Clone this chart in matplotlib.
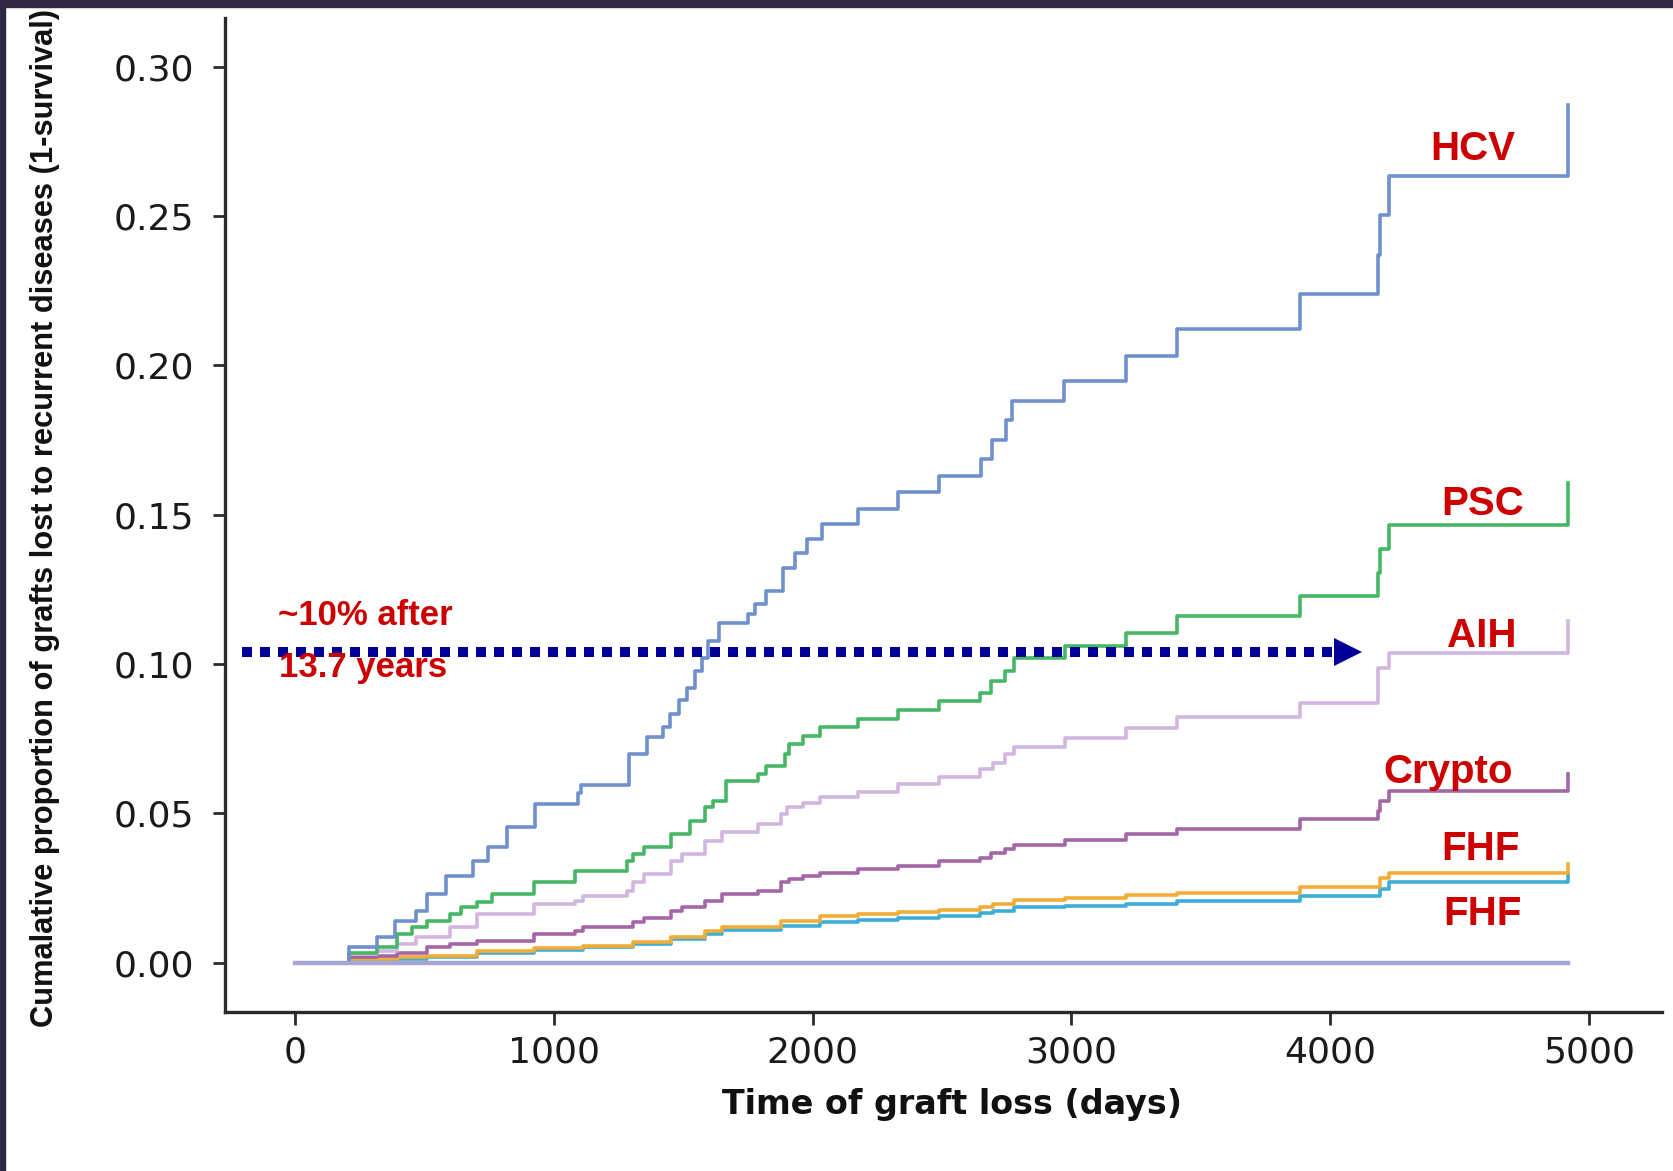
import matplotlib
matplotlib.use("Agg")
import matplotlib.pyplot as plt
from matplotlib.patches import Rectangle

# cumulative incidence step curves (days, proportion)
hcv_t = [0, 209, 319, 386, 467, 511, 584, 687, 746, 819, 929, 1093, 1105, 1290, 1360, 1421, 1450, 1483, 1515, 1544,
         1573, 1597, 1638, 1749, 1778, 1819, 1884, 1933, 1977, 2036, 2175, 2330, 2489, 2651, 2695, 2746, 2771, 2973,
         3213, 3408, 3882, 4183, 4193, 4227, 4919]
hcv_v = [0, 0.0054, 0.0085, 0.014, 0.0174, 0.023, 0.029, 0.034, 0.0386, 0.0453, 0.053, 0.0567, 0.0595, 0.070, 0.0755,
         0.079, 0.0834, 0.088, 0.092, 0.0977, 0.102, 0.1077, 0.1137, 0.1166, 0.12, 0.1245, 0.1320, 0.1372, 0.1417,
         0.1469, 0.1519, 0.1575, 0.1629, 0.1687, 0.1751, 0.1818, 0.188, 0.1949, 0.203, 0.2121, 0.2239, 0.237, 0.2505,
         0.2635, 0.2873]

psc_t = [0, 209, 319, 393, 452, 511, 599, 643, 702, 761, 922, 1084, 1283, 1305, 1349, 1452, 1525, 1584, 1614, 1665,
         1790, 1820, 1893, 1908, 1963, 2029, 2176, 2330, 2489, 2646, 2690, 2742, 2779, 2977, 3213, 3408, 3882, 4183,
         4193, 4227, 4919]
psc_v = [0, 0.0034, 0.0051, 0.0096, 0.0118, 0.014, 0.0163, 0.0185, 0.0202, 0.023, 0.0269, 0.0308, 0.0341, 0.0364,
         0.0386, 0.0431, 0.0475, 0.052, 0.054, 0.061, 0.0631, 0.0659, 0.0698, 0.0731, 0.0759, 0.0789, 0.0815, 0.0845,
         0.0876, 0.0904, 0.0943, 0.0977, 0.1019, 0.106, 0.1105, 0.116, 0.1227, 0.1305, 0.1385, 0.1465, 0.1605]

aih_t = [0, 209, 319, 393, 467, 599, 702, 922, 1084, 1114, 1283, 1305, 1349, 1452, 1496, 1584, 1650, 1790, 1878, 1900,
         1963, 2029, 2176, 2330, 2489, 2646, 2698, 2742, 2779, 2977, 3213, 3408, 3882, 4183, 4227, 4919]
aih_v = [0, 0.0029, 0.004, 0.0063, 0.0085, 0.0118, 0.0163, 0.0196, 0.0207, 0.0224, 0.0241, 0.0269, 0.0297, 0.0341,
         0.0364, 0.0408, 0.0436, 0.0464, 0.0497, 0.052, 0.0536, 0.0555, 0.0573, 0.06, 0.0622, 0.0648, 0.067, 0.0698,
         0.0723, 0.0754, 0.0787, 0.0824, 0.0871, 0.0988, 0.1038, 0.1144]

crypto_t = [0, 209, 319, 393, 511, 599, 702, 922, 1084, 1114, 1305, 1349, 1452, 1496, 1584, 1650, 1790, 1878, 1908,
            1963, 2029, 2176, 2330, 2489, 2646, 2690, 2742, 2779, 2977, 3213, 3408, 3882, 4183, 4193, 4227, 4919]
crypto_v = [0, 0.0018, 0.0022, 0.0034, 0.0051, 0.0063, 0.0074, 0.0096, 0.0107, 0.0118, 0.0135, 0.0151, 0.0174, 0.0185,
            0.0207, 0.023, 0.0241, 0.0269, 0.028, 0.0291, 0.0302, 0.0313, 0.0324, 0.0339, 0.0352, 0.0367, 0.038,
            0.0394, 0.041, 0.043, 0.0449, 0.0481, 0.0508, 0.0542, 0.0575, 0.0633]

fhf_t = [0, 209, 393, 511, 702, 922, 1114, 1305, 1452, 1584, 1650, 1878, 2029, 2176, 2330, 2489, 2646, 2698, 2779,
         2977, 3213, 3408, 3882, 4193, 4227, 4919]
fhf_a_v = [0, 0.0012, 0.0018, 0.0023, 0.0038, 0.0049, 0.0057, 0.0068, 0.0085, 0.0105, 0.012, 0.0138, 0.0157, 0.0163,
           0.0171, 0.0176, 0.0187, 0.0196, 0.021, 0.0218, 0.0226, 0.0235, 0.0254, 0.0285, 0.0302, 0.033]
fhf_b_v = [0, 0.0008, 0.0013, 0.0018, 0.0032, 0.0043, 0.0051, 0.0061, 0.0078, 0.0096, 0.011, 0.0124, 0.0137, 0.0143,
           0.0149, 0.0157, 0.0165, 0.0174, 0.0185, 0.0191, 0.0198, 0.0207, 0.0222, 0.0246, 0.0269, 0.0297]

base_t = [0, 4919]
base_v = [0, 0]

xticks = [0, 1000, 2000, 3000, 4000, 5000]
yticks = [0.00, 0.05, 0.10, 0.15, 0.20, 0.25, 0.30]

red = '#CC0000'
navy = '#000096'

fig = plt.figure(figsize=(16.73, 11.71), dpi=100)
ax = fig.add_axes([0.1345, 0.1358, 0.8589, 0.8488])

lw = 2.6
ax.step(fhf_t, fhf_b_v, where='post', color='#3EAED6', lw=lw)
ax.step(fhf_t, fhf_a_v, where='post', color='#F2AC38', lw=lw)
ax.step(crypto_t, crypto_v, where='post', color='#A366A6', lw=lw)
ax.step(aih_t, aih_v, where='post', color='#D2B6E0', lw=lw)
ax.step(psc_t, psc_v, where='post', color='#46B865', lw=lw)
ax.step(hcv_t, hcv_v, where='post', color='#7090CD', lw=lw)
ax.plot(base_t, base_v, color='#A6A6D6', lw=lw + 0.6)

ax.set_xlim(-270, 5282)
ax.set_ylim(-0.0165, 0.3163)
ax.set_xticks(xticks)
ax.set_xticklabels([str(v) for v in xticks])
ax.set_yticks(yticks)
ax.set_yticklabels(['%.2f' % v for v in yticks])

for s in ['top', 'right']:
    ax.spines[s].set_visible(False)
for s in ['left', 'bottom']:
    ax.spines[s].set_linewidth(2.4)
    ax.spines[s].set_color('#2a2a2a')
ax.tick_params(axis='both', direction='out', length=9, width=2, color='#2a2a2a',
               labelsize=26, labelcolor='#1a1a1a')
ax.tick_params(axis='y', pad=13)
ax.tick_params(axis='x', pad=8)

ax.set_xlabel('Time of graft loss (days)', fontsize=24, fontweight='bold', color='#111111')
ax.xaxis.set_label_coords(0.506, -0.076)
ylab = ax.set_ylabel('Cumalative proportion of grafts lost to recurrent diseases (1-survival)',
                     family=['Liberation Sans Narrow', 'Liberation Sans', 'DejaVu Sans'],
                     fontsize=22, fontweight='bold', color='#111111')
ax.yaxis.set_label_coords(-0.115, 0.497)

# fit the long y label to the axis height as in the original
fig.canvas.draw()
bb = ylab.get_window_extent()
ylab.set_fontsize(22 * 1017 / bb.height)

# 10% reference arrow
ax.plot([-205, 4015], [0.104, 0.104], color=navy, lw=7.2, dashes=(1.0, 0.8),
        solid_capstyle='butt', dash_capstyle='butt')
ax.plot([4069], [0.104], marker='>', markersize=20, color=navy, markeredgewidth=0)

tfont = dict(color=red, fontweight='bold', family=['Liberation Sans', 'DejaVu Sans'])
ax.text(-66, 0.1131, '~10% after', fontsize=25, ha='left', va='baseline', **tfont)
ax.text(-62, 0.0957, '13.7 years', fontsize=25, ha='left', va='baseline', **tfont)
ax.text(4552, 0.2688, 'HCV', fontsize=29, ha='center', va='baseline', **tfont)
ax.text(4590, 0.1499, 'PSC', fontsize=29, ha='center', va='baseline', **tfont)
ax.text(4587, 0.1058, 'AIH', fontsize=29, ha='center', va='baseline', **tfont)
ax.text(4455, 0.0602, 'Crypto', fontsize=29, ha='center', va='baseline', **tfont)
ax.text(4579, 0.0344, 'FHF', fontsize=29, ha='center', va='baseline', **tfont)
ax.text(4590, 0.0126, 'FHF', fontsize=29, ha='center', va='baseline', **tfont)

# dark slide frame at top and left
fig.patches.append(Rectangle((0, 0.994), 1, 0.006, transform=fig.transFigure, color='#2E2843', zorder=10))
fig.patches.append(Rectangle((0, 0), 0.003, 1, transform=fig.transFigure, color='#2E2843', zorder=10))

fig.savefig('out.png', dpi=100)
